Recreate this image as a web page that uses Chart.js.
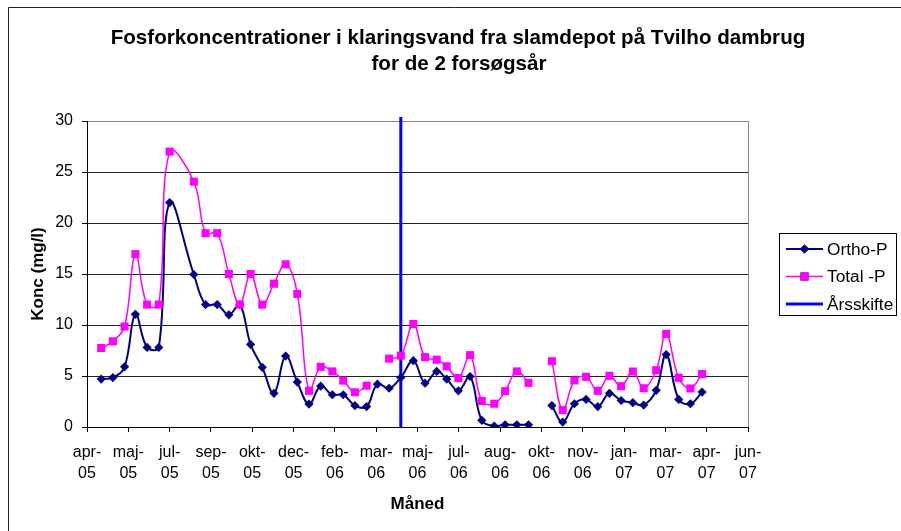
<!DOCTYPE html>
<html>
<head>
<meta charset="utf-8">
<script src="https://cdn.jsdelivr.net/npm/chart.js@4/dist/chart.umd.min.js"></script>
<style>
  html, body { margin: 0; padding: 0; background: #fff; }
  #wrap { width: 901px; height: 531px; }
</style>
</head>
<body>
<div id="wrap"><canvas id="fosfor_chart" width="901" height="531"></canvas></div>
<script>
// x = days counted from the first tick (apr-05)
const tickLabels = ['apr-05', 'maj-05', 'jul-05', 'sep-05', 'okt-05', 'dec-05', 'feb-06', 'mar-06',
  'maj-06', 'jul-06', 'aug-06', 'okt-06', 'nov-06', 'jan-07', 'mar-07', 'apr-07', 'jun-07'];
const tickStepDays = 49.5;

const sampleDays = [17, 31, 45, 58, 72, 86, 99, 128, 142, 156, 170, 183, 196, 210, 224, 238, 252,
  266, 280, 294, 307, 321, 335, 348, 362, 376, 391, 405, 419, 431, 445, 459, 473, 488, 501, 515,
  529, 543, 557, 570, 584, 598, 612, 626, 640, 654, 667, 682, 694, 709, 723, 737];

const orthoP = [4.7, 4.85, 5.9, 11.05, 7.8, 7.8, 22.0, 14.95, 12.0, 12.0, 11.0, 12.0, 8.1, 5.85,
  3.3, 6.95, 4.4, 2.25, 4.0, 3.16, 3.16, 2.1, 2.0, 4.2, 3.8, 4.85, 6.5, 4.3, 5.45, 4.7, 3.55, 4.95,
  0.65, 0.1, 0.22, 0.22, 0.22, null, 2.1, 0.48, 2.28, 2.7, 2.0, 3.3, 2.6, 2.38, 2.15, 3.6, 7.1,
  2.7, 2.28, 3.42];

const totalP = [7.75, 8.4, 9.85, 16.95, 12.0, 12.0, 27.0, 24.05, 19.0, 19.0, 15.0, 12.0, 15.0,
  12.0, 14.05, 15.95, 13.05, 3.55, 5.9, 5.45, 4.55, 3.4, 4.05, null, 6.7, 7.0, 10.1, 6.85, 6.6,
  5.95, 4.8, 7.05, 2.55, 2.28, 3.52, 5.45, 4.33, null, 6.45, 1.66, 4.56, 4.92, 3.55, 5.02, 4.0,
  5.44, 3.8, 5.57, 9.13, 4.82, 3.78, 5.2];

const yearChangeDay = 376;
const yMin = 0, yMax = 30, yStep = 5;

const FONT = '"Liberation Sans", Arial, sans-serif';

const frameAndLegend = {
  id: 'frameAndLegend',
  beforeDraw(chart) {
    const ctx = chart.ctx;
    ctx.save();
    ctx.fillStyle = '#fff';
    ctx.fillRect(0, 0, chart.width, chart.height);
    ctx.strokeStyle = '#222';
    ctx.lineWidth = 1;
    ctx.beginPath();
    ctx.moveTo(8.5, chart.height);
    ctx.lineTo(8.5, 7.5);
    ctx.lineTo(chart.width, 7.5);
    ctx.stroke();
    ctx.restore();
  },
  beforeDatasetsDraw(chart) {
    const {ctx, chartArea} = chart;
    ctx.save();
    ctx.strokeStyle = '#888';
    ctx.lineWidth = 1;
    ctx.beginPath();
    ctx.moveTo(Math.round(chartArea.right) + 0.5, chartArea.top);
    ctx.lineTo(Math.round(chartArea.right) + 0.5, chartArea.bottom);
    ctx.stroke();
    ctx.restore();
  },
  afterDraw(chart) {
    const ctx = chart.ctx;
    ctx.save();
    // title
    ctx.fillStyle = '#000';
    ctx.font = 'bold 20.6px ' + FONT;
    ctx.textAlign = 'center';
    ctx.textBaseline = 'middle';
    ctx.fillText('Fosforkoncentrationer i klaringsvand fra slamdepot på Tvilho dambrug', 458, 38);
    ctx.fillText('for de 2 forsøgsår', 459, 64);

    // legend
    ctx.strokeStyle = '#000';
    ctx.lineWidth = 1;
    ctx.strokeRect(779.5, 233.5, 117, 82);
    const rows = [249, 276.5, 304];
    chart.data.datasets.forEach((ds, i) => {
      const y = rows[i];
      ctx.strokeStyle = ds.borderColor;
      ctx.lineWidth = ds.borderWidth;
      ctx.beginPath();
      ctx.moveTo(786, y);
      ctx.lineTo(823, y);
      ctx.stroke();
      if (ds.pointRadius > 0) {
        Chart.helpers.drawPoint(ctx, {pointStyle: ds.pointStyle, radius: ds.pointRadius, borderWidth: 0, rotation: 0}, 804.5, y);
        ctx.fillStyle = ds.backgroundColor;
        ctx.fill();
      }
      ctx.fillStyle = '#000';
      ctx.font = '17.3px ' + FONT;
      ctx.textAlign = 'left';
      ctx.textBaseline = 'middle';
      ctx.fillText(ds.label, 827, y + 1);
    });
    ctx.restore();
  }
};

const toPoints = (vals) => sampleDays.map((d, i) => ({x: d, y: vals[i]}));

const config = {
  type: 'line',
  data: {
    datasets: [{
      label: 'Ortho-P',
      data: toPoints(orthoP),
      borderColor: '#000080',
      backgroundColor: '#000080',
      borderWidth: 2,
      pointStyle: 'rectRot',
      pointRadius: 4.6,
      pointBorderWidth: 0,
      tension: 0.4,
      order: 2
    }, {
      label: 'Total -P',
      data: toPoints(totalP),
      borderColor: '#FF00FF',
      backgroundColor: '#FF00FF',
      borderWidth: 1.5,
      pointStyle: 'rect',
      pointRadius: 5.7,
      pointBorderWidth: 0,
      tension: 0.4,
      order: 1
    }, {
      label: 'Årsskifte',
      data: [{x: yearChangeDay, y: yMin}, {x: yearChangeDay, y: yMax + 0.4}],
      borderColor: '#0000FF',
      backgroundColor: '#0000FF',
      borderWidth: 3,
      pointRadius: 0,
      clip: false,
      order: 3
    }]
  },
  options: {
    responsive: false,
    animation: false,
    events: [],
    layout: {padding: {top: 121, right: 153, left: 0, bottom: 0}},
    plugins: {
      legend: {display: false},
      tooltip: {enabled: false}
    },
    scales: {
      x: {
        type: 'linear',
        min: 0,
        max: (tickLabels.length - 1) * tickStepDays,
        afterFit(scale) { scale.height = 104; },
        afterBuildTicks(scale) {
          scale.ticks = tickLabels.map((t, i) => ({value: i * tickStepDays}));
        },
        ticks: {
          autoSkip: false,
          maxRotation: 0,
          padding: 10,
          color: '#000',
          font: {family: FONT, size: 16, lineHeight: 1.3},
          callback: (v, i) => [tickLabels[i].slice(0, 4), tickLabels[i].slice(4)]
        },
        grid: {drawOnChartArea: false, tickLength: 5, color: '#000'},
        border: {color: '#000', width: 1},
        title: {
          display: true,
          text: 'Måned',
          color: '#000',
          font: {family: FONT, size: 17, weight: 'bold'},
          padding: {top: 0, bottom: 16}
        }
      },
      y: {
        min: yMin,
        max: yMax,
        afterFit(scale) { scale.width = 87; },
        ticks: {
          stepSize: yStep,
          padding: 9,
          color: '#000',
          font: {family: FONT, size: 16}
        },
        grid: {
          color: (c) => (c.tick && c.tick.value === yMax ? '#888' : '#222'),
          tickColor: '#000',
          tickLength: 5
        },
        border: {color: '#000', width: 1},
        title: {
          display: true,
          text: 'Konc (mg/l)',
          color: '#000',
          font: {family: FONT, size: 17, weight: 'bold'},
          padding: {top: 28, bottom: 0}
        }
      }
    }
  },
  plugins: [frameAndLegend]
};

const fosfor_chart = new Chart(document.getElementById('fosfor_chart'), config);
</script>
</body>
</html>
